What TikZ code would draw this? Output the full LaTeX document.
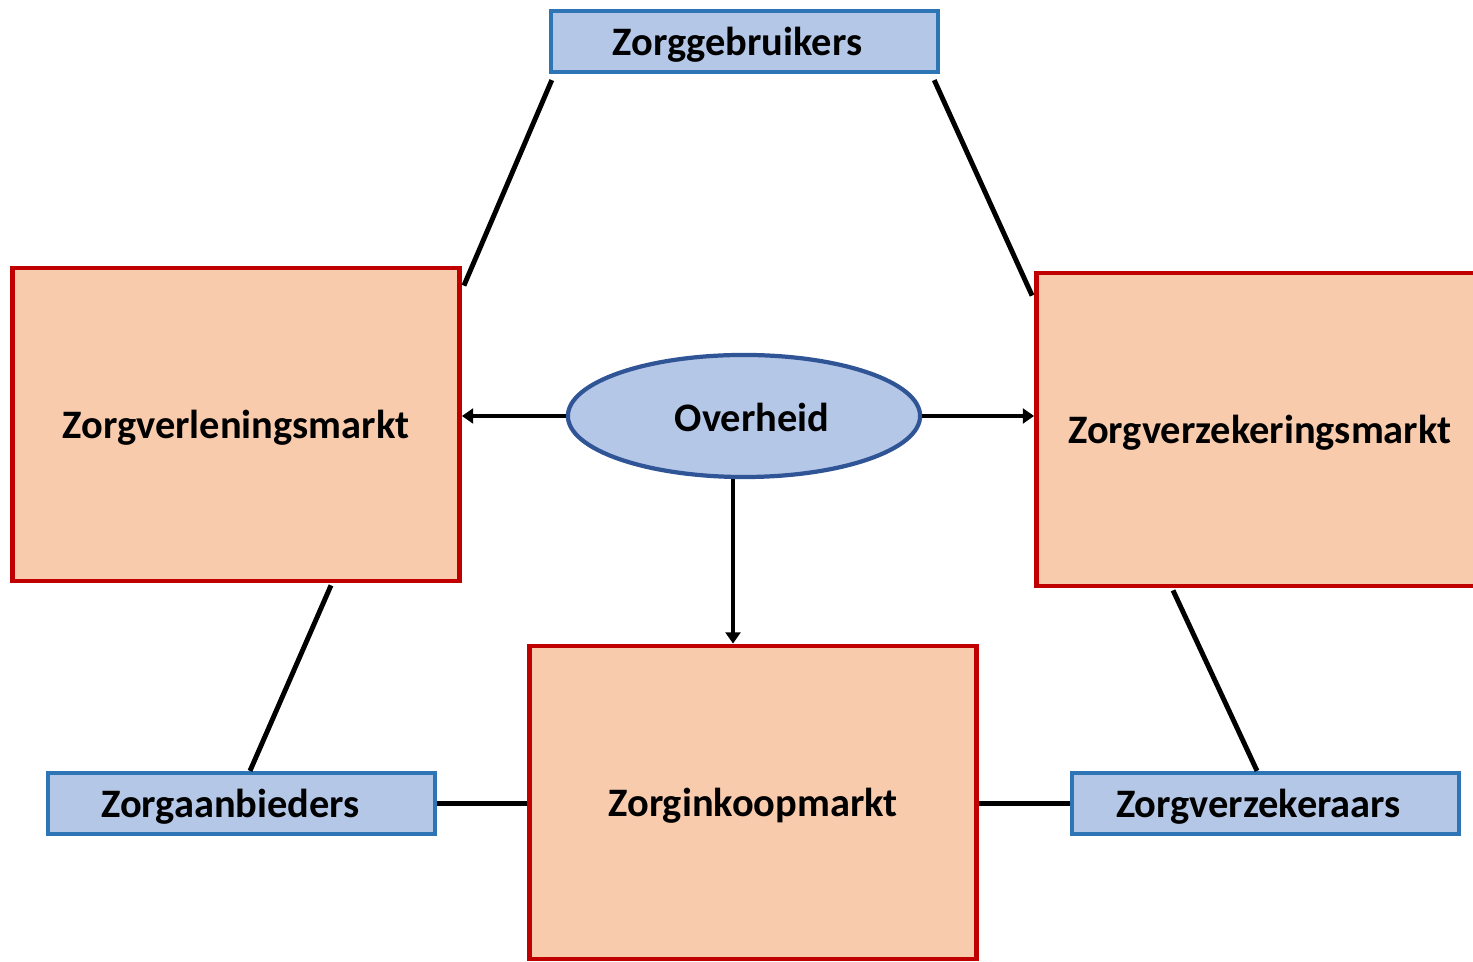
\documentclass[tikz,border=0pt]{standalone}
\usepackage{fontspec}
\setmainfont{Carlito}
\usetikzlibrary{arrows.meta,shapes.geometric}
\definecolor{bluefill}{HTML}{B4C7E7}
\definecolor{blueline}{HTML}{2E75B6}
\definecolor{ellline}{HTML}{2F5597}
\definecolor{peach}{HTML}{F8CBAD}
\definecolor{redline}{HTML}{C00000}
\tikzset{
  actor/.style={draw=blueline, fill=bluefill, line width=1.2pt, minimum width=3.87cm, minimum height=0.61cm, inner sep=0pt},
  market/.style={draw=redline, fill=peach, line width=1.3pt, minimum width=4.47cm, minimum height=3.13cm, inner sep=0pt},
  gov/.style={ellipse, draw=ellline, fill=bluefill, line width=1.2pt, minimum width=3.52cm, minimum height=1.22cm, inner sep=0pt},
  txt/.style={inner sep=0pt, font=\fontsize{11.5}{14}\selectfont\bfseries},
  link/.style={line width=1.4pt, black},
  arr/.style={line width=1.4pt, black, -{Triangle[length=3.2pt,width=4.2pt]}}
}
\begin{document}
\begin{tikzpicture}[x=0.01cm,y=-0.01cm]
\useasboundingbox (0,0) rectangle (1473,962);
\clip (0,0) rectangle (1473,962);
\node[actor] (zg) at (744.5,41.5) {};
\node[market] (zvm) at (236,424.5) {};
\node[market] (zvzm) at (1260,429.5) {};
\node[gov] (ov) at (744,416) {};
\node[market] (zik) at (753,802.5) {};
\node[actor] (za) at (241.5,803.5) {};
\node[actor] (zvr) at (1265.5,803.5) {};
\node[txt] (zgt) at ([shift={(-7,3)}]zg.center) {Zorggebruikers};
\node[txt] (zvmt) at ([shift={(0,3)}]zvm.center) {Zorgverleningsmarkt};
\node[txt] (zvzmt) at ([shift={(0,3)}]zvzm.center) {Zorgverzekeringsmarkt};
\node[txt] (ovt) at ([shift={(8,1)}]ov.center) {Overheid};
\node[txt] (zikt) at ([shift={(0,3)}]zik.center) {Zorginkoopmarkt};
\node[txt] (zat) at ([shift={(-11,3)}]za.center) {Zorgaanbieders};
\node[txt] (zvrt) at ([shift={(-7,3)}]zvr.center) {Zorgverzekeraars};
\coordinate (zgL) at ([shift={(3,6)}]zg.south west);
\coordinate (zgR) at ([shift={(-6,6)}]zg.south east);
\coordinate (zvmT) at ([shift={(2,20)}]zvm.north east);
\coordinate (zvzmT) at ([shift={(-2,25)}]zvzm.north west);
\coordinate (zvmB) at ([shift={(95,2)}]zvm.south);
\coordinate (zvzmB) at ([shift={(-87,2)}]zvzm.south);
\coordinate (zaT) at ([shift={(8.5,0)}]za.north);
\coordinate (zvrT) at ([shift={(-8.5,0)}]zvr.north);
\coordinate (ovS) at ([shift={(-11,0)}]ov.south);
\draw[link] (zgL) -- (zvmT);
\draw[link] (zgR) -- (zvzmT);
\draw[link] (zvmB) -- (zaT);
\draw[link] (zvzmB) -- (zvrT);
\draw[link] (za.east) -- (za.east -| zik.west);
\draw[link] (zik.east |- zvr.west) -- (zvr.west);
\draw[arr] (ov.west) -- (ov.west -| zvm.east);
\draw[arr] (ov.east) -- (ov.east -| zvzm.west);
\draw[arr] (ovS) -- (ovS |- zik.north);
\end{tikzpicture}
\end{document}
